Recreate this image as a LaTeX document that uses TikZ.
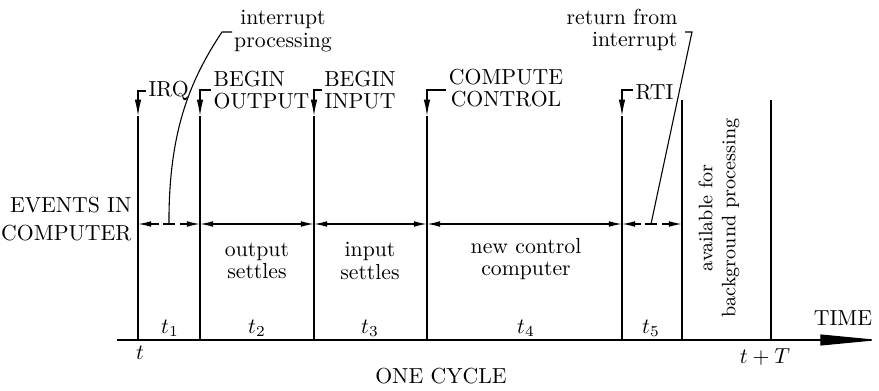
\documentclass[tikz,border=0pt]{standalone}
\usepackage{tikz}
\usetikzlibrary{arrows.meta,positioning}

\begin{document}
\begin{tikzpicture}[
  x=0.46pt,y=-0.46pt,
  every node/.style={font=\normalsize,inner sep=1pt},
  >={Latex[length=6pt,width=2.6pt]},
  event/.style={line width=0.6pt},
  evtip/.style={line width=0.6pt,-{Latex[length=7.5pt,width=3pt]}},
  dimline/.style={line width=0.6pt},
  leader/.style={line width=0.5pt},
  twoline/.style={align=center,font=\fontsize{10}{10.5}\selectfont}
]
\useasboundingbox (0,0) rectangle (879,391);

% event lines
\foreach \n/\x in {irq/138,bout/200,bin/314,cc/427,rti/622}{
  \coordinate (\n) at (\x,90);
  \coordinate (\n-a) at (\x,116);
  \coordinate (\n-m) at (\x,224);
  \coordinate (\n-b) at (\x,340);
}
\coordinate (bg) at (682,100);   \coordinate (bg-m) at (682,224);
\coordinate (bg-b) at (682,340);
\coordinate (tT) at (771,100);   \coordinate (tT-b) at (771,340);

\node[anchor=west] (IRQ) at (146,91) {IRQ};
\node[twoline,align=left,anchor=west] (BO) at (211,90) {BEGIN\\OUTPUT};
\node[twoline] (BI) at (360,90) {BEGIN\\INPUT};
\node[twoline] (CC) at (506,88) {COMPUTE\\CONTROL};
\node[anchor=west] (RTI) at (633,92) {RTI};

\draw[evtip] (IRQ.west) -| (irq-a);  \draw[event] (irq-a) -- (irq-b);
\draw[evtip] (BO.west) -| (bout-a);  \draw[event] (bout-a) -- (bout-b);
\draw[evtip] (BI.west|-bin) -| (bin-a);  \draw[event] (bin-a) -- (bin-b);
\draw[evtip] (CC.west|-cc) -| (cc-a);  \draw[event] (cc-a) -- (cc-b);
\draw[evtip] (RTI.west|-rti) -| (rti-a);  \draw[event] (rti-a) -- (rti-b);
\draw[event] (bg) -- (bg-b);
\draw[event] (tT) -- (tT-b);

% dimension lines
\coordinate (ip) at (169,224);
\coordinate (rf) at (651,224);
\draw[dimline,->] (159,224) -- (irq-m);
\draw[dimline,->] (180,224) -- (bout-m);
\draw[dimline] (163,224) -- (175,224);
\draw[dimline,<->] (bout-m) -- (bin-m);
\draw[dimline,<->] (bin-m) -- (cc-m);
\draw[dimline,<->] (cc-m) -- (rti-m);
\draw[dimline,->] (641,224) -- (rti-m);
\draw[dimline,->] (662,224) -- (bg-m);
\draw[dimline] (645,224) -- (657,224);

% leaders
\node[twoline] (IP) at (283,31) {interrupt\\processing};
\node[twoline,align=right,anchor=east] (RF) at (680,30) {return from\\interrupt};
\draw[leader] (ip) -- (169,215) .. controls (170,130) and (190,80) .. (222,32) -- (232,32);
\draw[leader] (rf) -- (692,32) -- (685,32);

% labels
\node[align=right,anchor=east] (EV) at (134,219) {EVENTS IN\\[1pt]COMPUTER};
\node[twoline] (OS) at (257,261) {output\\settles};
\node[twoline] (IS) at (370,261) {input\\settles};
\node[twoline] (NC) at (526,259) {new control\\computer};
\node[align=center,rotate=90,font=\fontsize{9}{10.5}\selectfont] (AV) at (719,218)
  {available for\\background processing};

\node (T1) at (170,328) {$t_1$};
\node (T2) at (257,328) {$t_2$};
\node (T3) at (370,328) {$t_3$};
\node (T4) at (526,328) {$t_4$};
\node (T5) at (651,328) {$t_5$};

% time axis
\coordinate (ax0) at (117,340);
\coordinate (ax1) at (879,340);
\draw[line width=0.6pt,-{Triangle[length=27pt,width=5pt]}] (ax0) -- (ax1);
\node (TIME) at (843,318) {TIME};
\node (t0) at (140,353) {$t$};
\node (tpT) at (765,357) {$t+T$};
\node (OC) at (441,376) {ONE CYCLE};
\end{tikzpicture}
\end{document}
